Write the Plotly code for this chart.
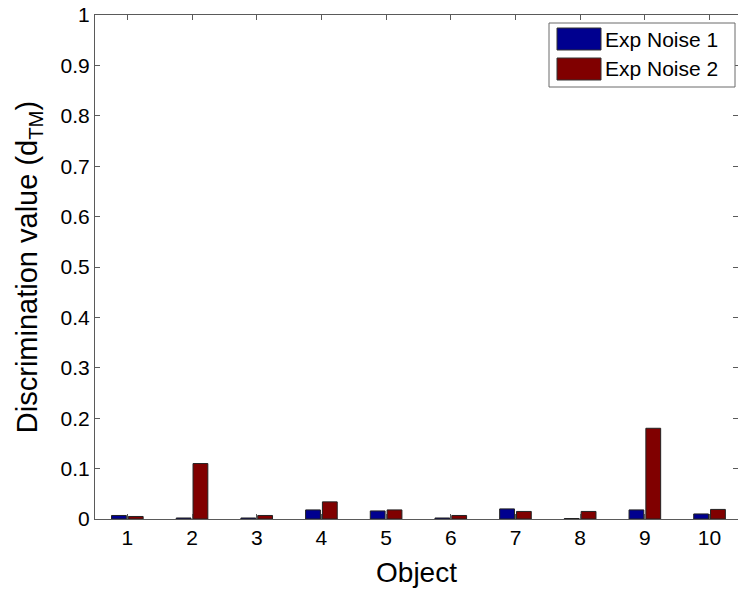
import plotly.graph_objects as go

# Discrimination values per object for the two noise experiments
objects = [1, 2, 3, 4, 5, 6, 7, 8, 9, 10]
exp_noise_1 = [0.007, 0.002, 0.002, 0.018, 0.016, 0.002, 0.020, 0.001, 0.018, 0.010]
exp_noise_2 = [0.005, 0.110, 0.007, 0.034, 0.018, 0.007, 0.015, 0.015, 0.180, 0.019]
series_names = ["Exp Noise 1", "Exp Noise 2"]
series_colors = ["#00008F", "#800000"]
y_ticks = [0, 0.1, 0.2, 0.3, 0.4, 0.5, 0.6, 0.7, 0.8, 0.9, 1]
y_tick_text = ["0", "0.1", "0.2", "0.3", "0.4", "0.5", "0.6", "0.7", "0.8", "0.9", "1"]

FONT = "Liberation Sans, Arial, Helvetica, sans-serif"
AXIS_COLOR = "#5a5a5a"

fig = go.Figure()
for name, vals, col in zip(series_names, [exp_noise_1, exp_noise_2], series_colors):
    fig.add_trace(go.Bar(
        x=objects, y=vals, name=name,
        marker=dict(color=col, line=dict(color="#222222", width=1)),
        showlegend=False,
    ))

# Boxed legend with large colour swatches (top-right corner)
fig.add_shape(type="rect", xref="paper", yref="paper",
              x0=(549 - 95) / 643, x1=(735 - 95) / 643,
              y0=(519 - 87) / 504, y1=(519 - 23) / 504,
              line=dict(color="#6a6a6a", width=1), fillcolor="white", layer="above")
for i, (name, col) in enumerate(zip(series_names, series_colors)):
    top = 28 + i * 30
    fig.add_shape(type="rect", xref="paper", yref="paper",
                  x0=(557 - 95) / 643, x1=(601 - 95) / 643,
                  y0=(519 - (top + 22)) / 504, y1=(519 - top) / 504,
                  line=dict(color="#333333", width=1), fillcolor=col, layer="above")
    fig.add_annotation(xref="paper", yref="paper",
                       x=(603 - 95) / 643, y=(519 - (top + 11)) / 504,
                       text=name, showarrow=False, xanchor="left", yanchor="middle",
                       font=dict(family=FONT, size=21, color="black"))

fig.update_layout(
    width=738, height=596,
    margin=dict(l=95, r=0, t=15, b=77),
    paper_bgcolor="white", plot_bgcolor="white",
    barmode="group", bargap=0.48, bargroupgap=0.12,
    font=dict(family=FONT, color="black"),
)
fig.update_xaxes(
    range=[0.5, 10.44], tickvals=objects, ticktext=[str(o) for o in objects],
    ticks="inside", ticklen=5, tickcolor=AXIS_COLOR,
    showline=True, linecolor=AXIS_COLOR, linewidth=1, mirror="ticks",
    showgrid=False, zeroline=False,
    tickfont=dict(family=FONT, size=21, color="black"),
    title=dict(text="Object", font=dict(family=FONT, size=28, color="black"), standoff=14),
)
fig.update_yaxes(
    range=[0, 1], tickvals=y_ticks, ticktext=y_tick_text,
    ticks="inside", ticklen=5, tickcolor=AXIS_COLOR,
    showline=True, linecolor=AXIS_COLOR, linewidth=1, mirror="ticks",
    showgrid=False, zeroline=False,
    tickfont=dict(family=FONT, size=21, color="black"),
    title=dict(text="Discrimination value (d<sub>TM</sub>)",
               font=dict(family=FONT, size=29, color="black"), standoff=14),
)

fig.write_html("out.html")
